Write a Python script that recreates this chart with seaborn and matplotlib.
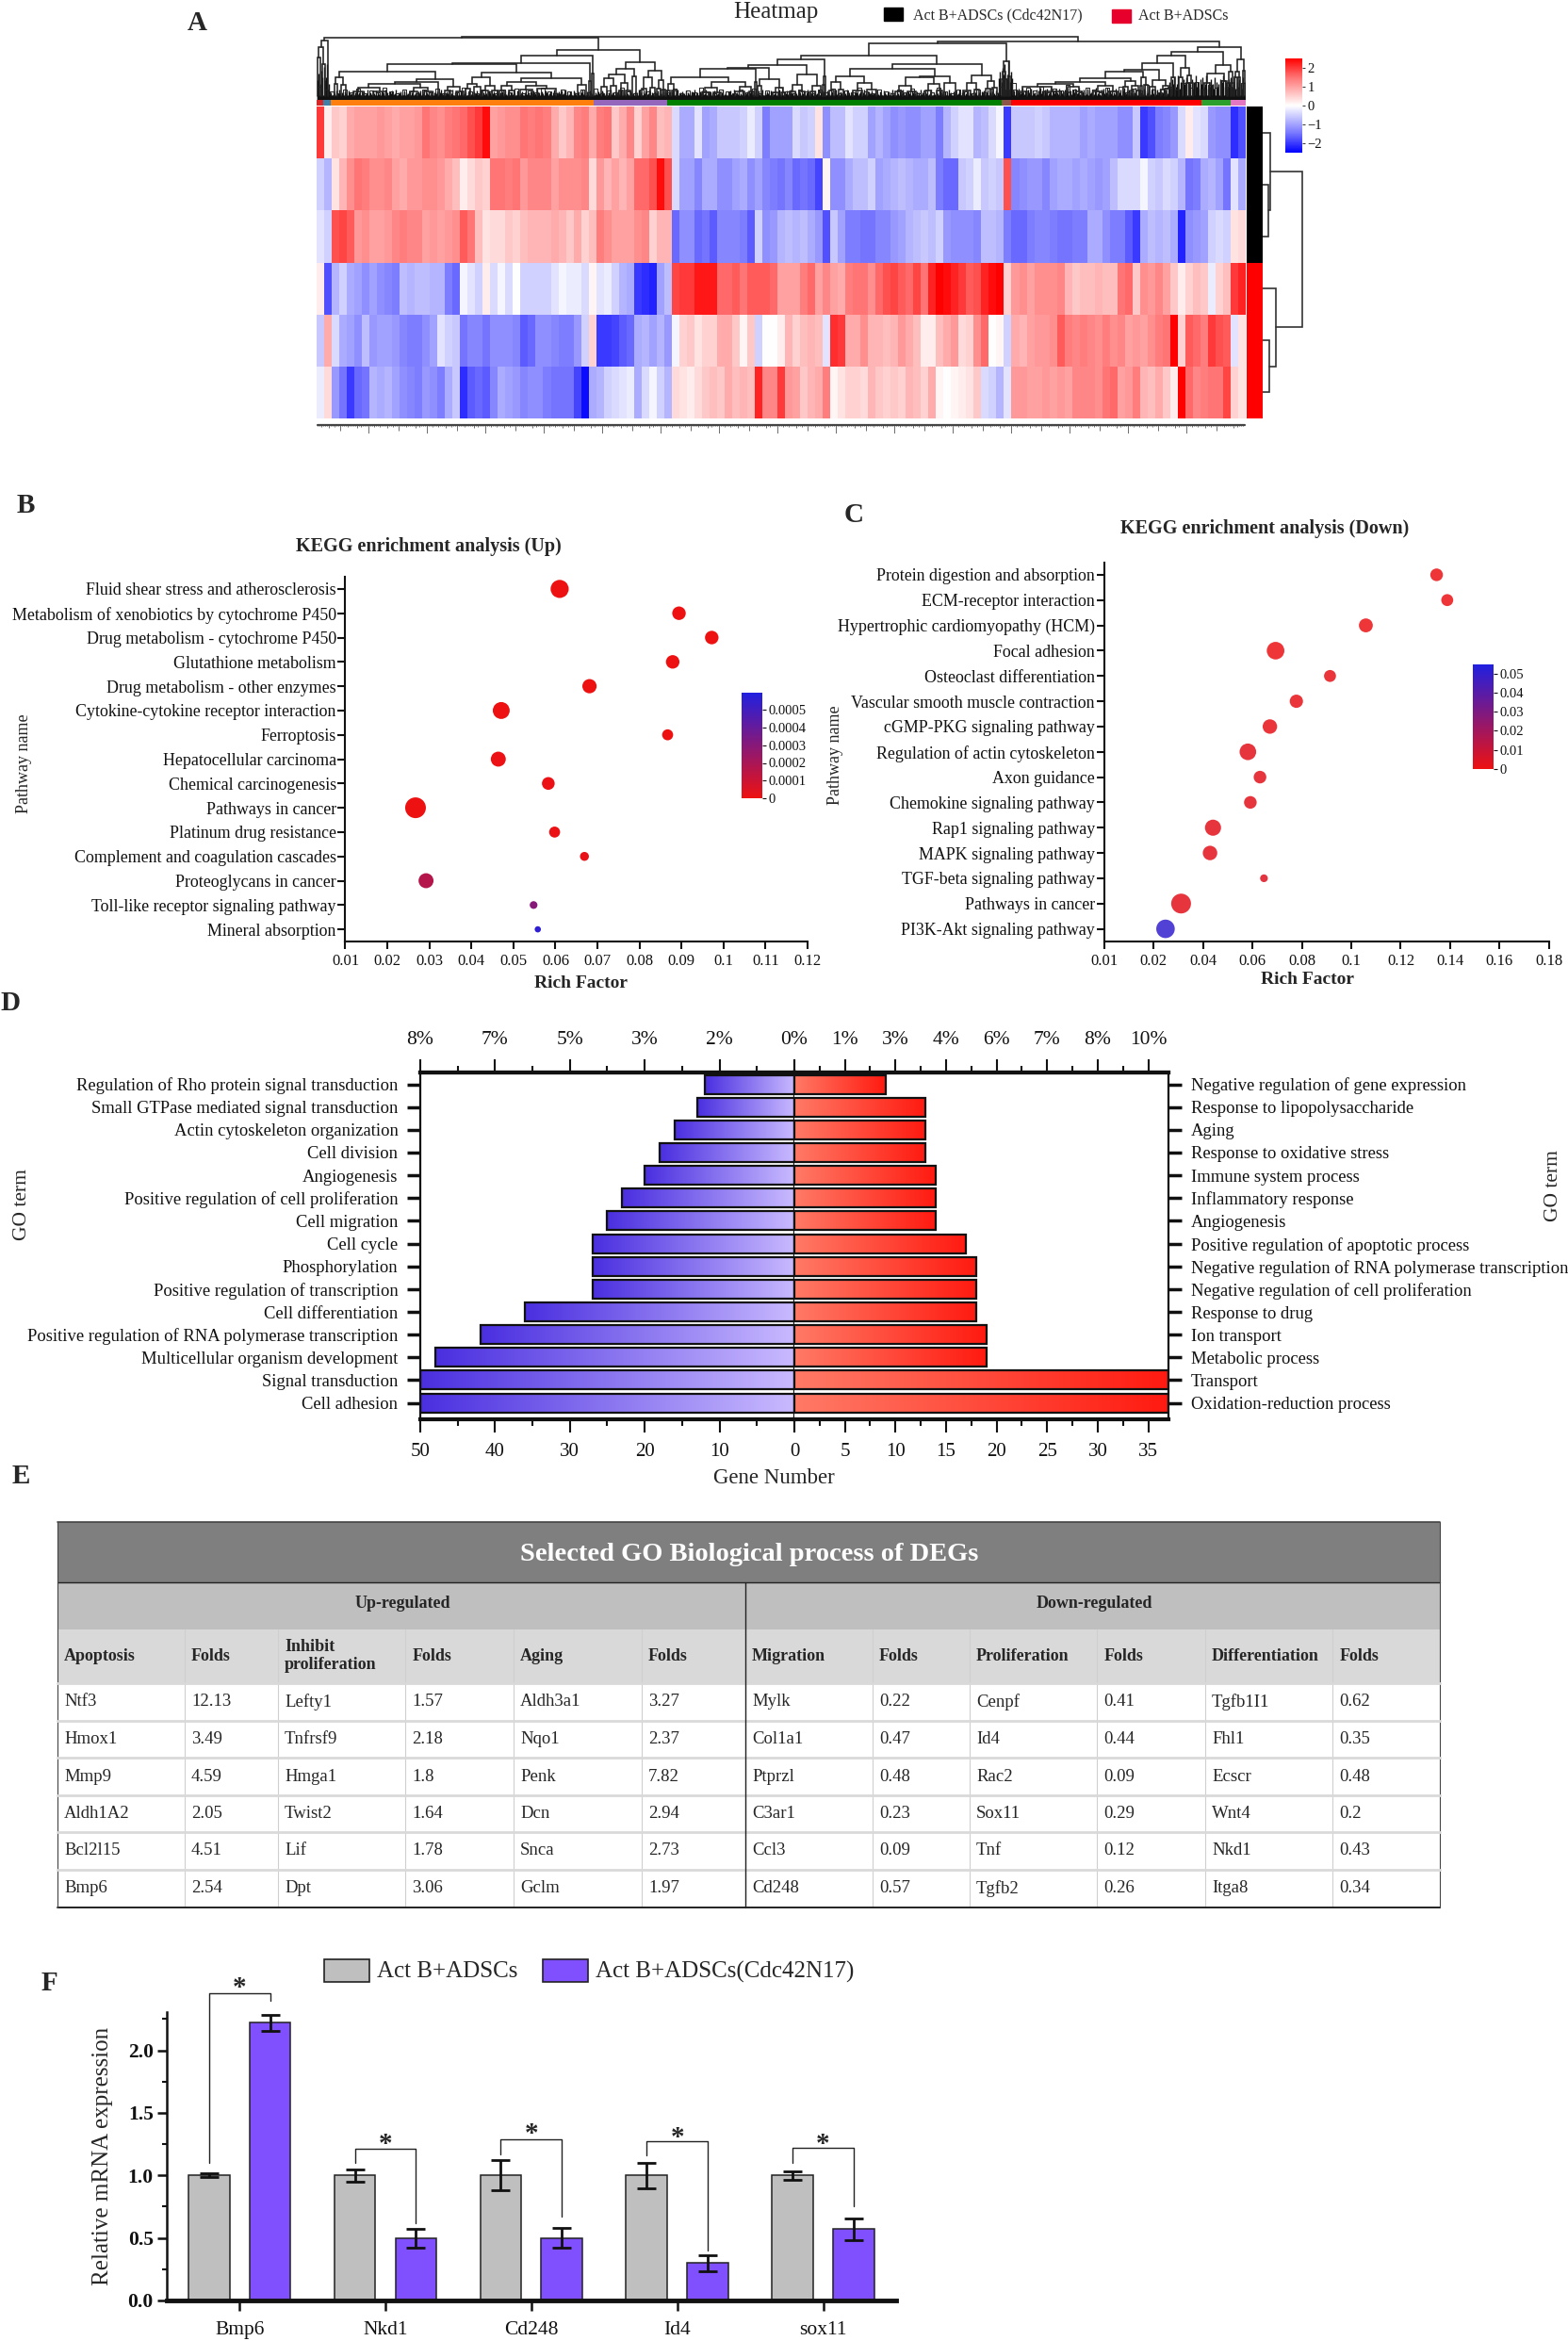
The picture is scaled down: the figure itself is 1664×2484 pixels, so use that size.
import numpy as np
import pandas as pd
import matplotlib
matplotlib.use('Agg')
import matplotlib.pyplot as plt
import seaborn as sns
from matplotlib.cm import ScalarMappable
from matplotlib.colors import LinearSegmentedColormap, Normalize
from matplotlib.patches import Rectangle

W, H = 1665, 2484

sns.set_style('ticks')
plt.rcParams['font.family'] = ['Liberation Serif', 'DejaVu Serif']
plt.rcParams['axes.edgecolor'] = '#111111'
plt.rcParams['xtick.color'] = '#111111'
plt.rcParams['ytick.color'] = '#111111'

ROW1 = [2.0, 0.2, 0.6, 0.5, 0.9, 1.0, 1.0, 1.0, 1.1, 1.0,
        0.9, 1.0, 1.0, 1.1, 1.5, 1.3, 1.2, 1.4, 1.5, 1.6,
        1.8, 2.0, 2.4, 1.0, 1.1, 1.2, 1.2, 1.5, 1.4, 1.5,
        1.4, 0.9, 0.6, 0.8, 1.3, 1.4, 0.9, 1.4, 1.5, 0.6,
        0.9, 1.3, 0.5, 1.0, 1.3, 0.7, 0.8, -0.4, -0.9, -0.9,
        -0.3, -1.0, -0.9, -0.6, -0.6, -0.6, -0.5, -0.2, -0.5, -1.4,
        -1.0, -1.0, -1.0,
        -0.4, -0.6, -0.5, 0.3, -1.2, -0.7, -0.7, -0.3, -0.5, -0.5,
        -1.0, -0.8, -1.0, -1.2, -1.1, -1.2, -1.2, -1.0, -1.0, -1.4,
        -0.8, -0.5, -0.3, -0.3, -0.8, -0.7, -0.4, -0.1, -2.0, -0.6,
        -0.6, -0.6, -0.5, -0.6, -0.8, -0.8, -0.8, -0.8, -1.0, -0.9,
        -1.0, -1.0, -1.0, -1.2, -1.2, -0.6, -2.0, -1.8, -1.4, -1.3,
        -1.1, -0.4, 0.2, -0.3, -0.4, -1.1, -1.2, -1.2, -2.1, -1.8]
ROW2 = [-0.5, -0.8, 0.3, 0.8, 1.2, 1.5, 1.4, 1.2, 1.2, 1.3,
        1.0, 0.9, 1.1, 1.1, 1.2, 1.2, 1.1, 0.9, 0.7, 0.2,
        0.4, 0.6, 0.5, 1.5, 1.5, 1.4, 1.5, 1.1, 1.3, 1.3,
        1.3, 1.0, 1.2, 1.2, 1.2, 1.3, 0.4, 1.1, 0.8, 1.0,
        0.8, 1.0, 1.6, 1.6, 1.8, 2.4, 1.8, -0.4, -1.0, -1.0,
        -1.3, -0.9, -0.9, -1.2, -1.2, -1.0, -0.9, -1.2, -1.0, -1.3,
        -1.4, -1.5, -1.3,
        -1.6, -1.5, -1.6, -1.9, 0.1, -1.2, -1.2, -0.9, -0.7, -0.7,
        -0.5, -1.0, -0.9, -0.8, -0.7, -0.8, -0.9, -0.9, -0.7, -1.4,
        -1.6, -1.6, -0.6, -0.5, -0.2, -0.6, -0.5, -0.6, 1.8, -1.3,
        -1.2, -1.1, -1.1, -1.3, -1.0, -0.9, -0.9, -1.0, -0.9, -1.0,
        -1.1, -1.0, -0.7, -0.4, -0.4, -0.4, -0.1, -0.5, -0.6, -0.4,
        -0.5, -0.8, -1.5, -1.4, -0.9, -0.8, -1.0, -1.5, -0.3, -0.9]
ROW3 = [-0.3, -0.5, 1.8, 1.9, 1.7, 1.1, 1.2, 1.0, 1.0, 1.1,
        1.3, 1.4, 1.3, 1.3, 1.0, 1.1, 1.0, 1.1, 1.2, 1.7,
        1.5, 0.7, 0.3, 0.4, 0.4, 0.6, 0.5, 0.7, 0.8, 0.8,
        0.8, 0.9, 0.8, 0.6, 0.9, 0.5, 0.7, 1.4, 1.2, 1.0,
        1.0, 1.0, 1.2, 1.3, 0.5, 0.8, 0.8, -1.6, -1.2, -1.2,
        -1.6, -1.5, -1.7, -1.3, -1.3, -1.3, -1.4, -1.7, -0.5, -1.2,
        -1.1, -0.8, -0.7,
        -0.8, -0.7, -0.9, -1.1, -1.8, -0.6, -1.0, -1.4, -1.4, -1.5,
        -1.5, -1.3, -1.3, -1.1, -1.0, -0.8, -0.7, -0.6, -0.7, -0.5,
        -1.1, -1.2, -1.2, -1.2, -1.3, -0.7, -0.7, -0.8, -1.4, -1.6,
        -1.6, -1.4, -1.3, -1.3, -1.4, -1.5, -1.5, -1.4, -1.4, -0.9,
        -0.9, -1.2, -1.4, -1.4, -1.7, -2.0, -0.9, -0.7, -0.8, -0.7,
        -0.9, -2.2, -1.2, -1.1, -1.0, -0.5, -0.4, -0.5, 0.3, 0.4]
ROW4 = [0.2, -1.8, -0.8, -0.5, -0.9, -1.0, -1.2, -1.0, -1.2, -1.3,
        -1.4, -0.7, -0.8, -0.7, -0.7, -0.8, -0.8, -1.4, -1.6, -0.1,
        -0.3, -0.5, 0.2, -0.4, -0.1, -0.4, 0.0, -0.5, -0.5, -0.5,
        -0.5, -0.3, -0.1, -0.2, -0.2, -0.4, 0.1, -0.3, -0.2, -0.5,
        -0.8, -0.9, -2.0, -2.1, -2.2, -1.0, -0.7, 1.9, 2.0, 2.0,
        2.3, 2.3, 2.3, 1.6, 1.6, 1.7, 1.5, 1.7, 1.7, 1.7,
        1.6, 1.0, 1.0,
        1.0, 1.4, 1.6, 1.0, 1.3, 1.0, 0.9, 1.4, 1.5, 1.5,
        1.2, 1.6, 1.8, 1.9, 1.7, 1.6, 1.9, 1.5, 2.2, 2.5,
        2.4, 2.2, 2.0, 1.7, 1.8, 2.2, 2.4, 2.5, 0.5, 1.1,
        1.2, 1.0, 1.2, 1.2, 1.2, 1.3, 0.8, 0.6, 0.7, 0.7,
        0.8, 0.7, 0.7, 1.5, 1.6, 0.6, 1.2, 1.1, 1.3, 1.0,
        0.6, 0.2, 0.5, 0.7, 0.6, -0.2, 0.5, 0.7, 2.0, 2.2]
ROW5 = [-0.6, 0.9, -0.4, -0.9, -1.0, -1.2, -0.7, -1.1, -1.0, -1.0,
        -1.1, -1.3, -1.4, -1.4, -1.2, -1.0, -0.3, -0.5, -0.6, -1.5,
        -1.3, -1.3, -1.5, -1.2, -1.2, -1.2, -1.3, -1.7, -1.6, -1.2,
        -1.2, -1.3, -1.4, -1.4, -1.1, -0.5, 0.5, -2.0, -2.0, -1.9,
        -1.7, -1.6, -0.9, -0.8, -1.0, -0.8, -1.1, -0.1, 0.5, 0.6,
        0.3, 0.5, 0.5, 0.9, 0.9, 0.6, 0.1, 0.6, -0.5, 0.0,
        0.0, 0.2, 0.8,
        0.5, 0.7, 0.8, 0.7, -0.3, 2.1, 2.0, 0.9, 0.9, 1.2,
        0.8, 0.8, 0.7, 0.8, 1.1, 0.9, 0.7, 0.2, 0.2, 0.7,
        0.9, 1.1, 0.4, 0.5, 1.2, 1.6, 0.0, 0.1, -0.5, 0.9,
        0.8, 1.0, 1.1, 1.1, 1.2, 1.7, 1.4, 1.3, 1.4, 1.3,
        1.2, 1.4, 1.2, 1.3, 1.0, 1.1, 1.0, 1.2, 1.4, 1.5,
        2.5, 0.5, 1.7, 1.6, 1.4, 2.0, 1.8, 1.7, -0.3, 0.3]
ROW6 = [-0.2, 0.4, -1.1, -1.5, -2.0, -1.6, -1.5, -0.8, -0.9, -0.8,
        -1.0, -1.2, -1.3, -1.4, -1.1, -1.2, -1.4, -0.9, -0.6, -2.1,
        -1.7, -1.6, -1.7, -1.3, -0.9, -1.0, -1.1, -1.3, -1.2, -1.2,
        -1.4, -1.5, -1.5, -1.5, -1.9, -2.4, -0.9, -0.8, -0.5, -0.4,
        -0.3, -0.2, -0.9, -0.4, -0.1, -0.5, -0.8, 0.4, 0.3, 0.2,
        0.4, 0.6, 0.7, 0.6, 0.9, 0.7, 0.8, 0.7, 2.2, 1.3,
        1.3, 2.0, 1.1,
        1.0, 0.6, 0.8, 0.9, 1.4, 0.1, 0.3, 0.5, 0.5, 0.4,
        0.8, 0.6, 0.5, 0.6, 0.5, 0.8, 0.7, 0.5, 0.9, 0.1,
        0.0, 0.1, 0.2, 0.3, 0.6, -0.4, -0.5, -0.8, -0.3, 1.1,
        1.1, 1.0, 1.0, 1.1, 1.0, 1.1, 1.0, 1.3, 1.3, 1.3,
        1.2, 1.5, 1.6, 1.0, 1.1, 1.4, 0.8, 0.7, 0.9, 0.6,
        0.2, 2.5, 1.6, 1.3, 1.4, 1.5, 1.5, 1.9, 0.5, 0.3]

# cluster strip above the heatmap (pixel widths along the 986 px wide map)
STRIP_WIDTHS = [7, 8, 279, 78, 355, 10, 202, 31, 17]
STRIP_COLORS = ['#d62728', '#3f7fa8', '#ff7f0e', '#9467bd', '#008000',
                '#8c564b', '#ff0000', '#2ca02c', '#e377c2']

# column dendrogram: (height, left, right), a bare number is a leaf position
TREE_SPIKES = (63, (56, (45, 337, 340), (38, 342, 345)), 348)
TREE_O1 = (24, (17, 355, 358), (16, 362, 367))
TREE_O2 = (21.7, (19.3, (16.7, (12.7, (9, 375, 385), (9, 396, 410)),
                         (13, (9, 435, 443), (9, 450, 458))), 465),
           (14, (10, 472, 478), (9, 484, 492)))
TREE_O3 = (23.7, (17, (12, 494, 499), (14, 503, 510)),
           (15, (10, 512, 518), (10, 522, 528)))
TREE_O4 = (22.7, (19.3, (15, (10, 530, 535), (10, 540, 546)),
                  (15, (11, 552, 565), (12, 570, 590))),
           (16, 613, 622))
TREE_ORANGE = (46.7, (39.3, (37.7, (29.7, TREE_O1, TREE_O2), (29.3, TREE_O3, TREE_O4)),
                      (20, 625.5, 627.5)), (28, 628.5, 630))
TREE_PURPLE = (40, (33.3, (26.7, (22.7, (14, 638, 644), (15, 648, 654)),
                           (17.7, (10, 657, 661), (10, 664, 669))), (25, 671, 675)),
               (31, (24.3, (12, 681, 686), (13, 690, 695)),
                (21, (12, 697, 701), (11, 703, 706))))
TREE_G1 = (33.5, (24.3, (17, (10, 707, 711), (10, 713, 718)),
                  (18.7, (13, (8, 745, 752), (8, 757, 765)),
                   (14, (9, 780, 790), (9, 795, 800)))), (19, 801, 803))
TREE_G2 = (21.7, (15, 804, 808), (13, (8, 820, 826), (8, 829, 833)))
TREE_G3 = (27, (16, (9, 838, 844), (9, 848, 854)), (15, (9, 860, 865), (8, 869, 873)))
TREE_G4 = (25.3, (19, (10, 880, 885), (11, 890, 895)), (18, (10, 905, 915), (11, 920, 930)))
TREE_G5 = (25.3, (23.7, (15, (9, 950, 958), (9, 963, 972)),
                  (17, (10, 982, 988), (10, 994, 1000))), (18, 1002, 1014))
TREE_G6 = (26, (18, (10, 1022, 1030), (11, 1034, 1039)),
           (20, (12, 1046, 1051), (13, 1053, 1058)))
TREE_GREEN = (60.3, (47, (43.3, (36.7, (33.7, TREE_G1, TREE_G2), TREE_G3),
                          (25, (16, 873, 875), 876)),
                     (37.7, (32.7, TREE_G4, TREE_G5), TREE_G6)),
              (41, (30, (22, 1063, 1065), (22, 1066, 1068)), (25, 1070, 1072)))
TREE_R1 = (19.3, (16.7, (14.3, (9, 1080, 1090), (9, 1108, 1125)),
                  (14, (8, 1130, 1136), (9, 1142, 1148))),
           (15, (9, 1160, 1170), (9, 1176, 1186)))
TREE_R2 = (31.7, (29.7, (22.7, TREE_R1, (20, (14, 1192, 1197), (15, (10, 1200, 1203), (10, 1206, 1210)))),
                  (24, (15, 1210, 1212), (16, 1214, 1218))),
           (20.7, (14, 1220, 1226), (15, (11, 1232, 1236), (12, 1238, 1243))))
TREE_R3 = (46.7, (39.3, TREE_R2, (24, 1243.5, 1247)),
           (33.7, (24, 1251, 1255), (26, (18, 1259, 1262), (18, 1263, 1266))))
TREE_R4 = (36.7, (28, (18, 1278, 1284), (20, 1296, 1302)),
           (30, (18, 1303, 1306), (18, 1307, 1309)))
TREE_PINK = (42.7, (30, (24, 1310, 1313), (24, 1314, 1316)), (31, 1319, 1321))
COL_TREE = (67, (66, TREE_SPIKES, (52.7, TREE_ORANGE, TREE_PURPLE)),
            (61.7, TREE_GREEN, (56, (51, TREE_R3, TREE_R4), TREE_PINK)))

# fine leaves at the base of the dendrogram
FUZZ_HEIGHTS = [6, 8, 5, 9, 7, 10, 6, 7, 11, 5, 8, 6, 9, 7, 5, 10, 8, 6, 7, 9, 5, 8, 11]
HAT_HEIGHTS = [9, 7, 11, 8, 12, 7, 10, 8, 13, 9, 7, 11]
FUZZ_ZONES = [(337, 350, 3.5), (350, 1060, 1.0), (1060, 1075, 3.8), (1075, 1240, 1.2), (1240, 1322, 2.4)]
GENE_TICKS = [1, 1, 2, 1, 1, 1, 3, 1, 1, 2, 1, 1, 5, 1, 1, 1, 2, 1, 1, 1, 1, 3, 1, 2, 1, 1, 1, 7, 1, 1, 2]

# row dendrogram, leaves are row numbers
ROW_TREE = (42, (8, 0, (6, 1, 2)), (14, 3, (7, 4, 5)))
ROW_COLORS = ['black', 'black', 'black', 'red', 'red', 'red']

# ---- B: KEGG up
B_PATHWAYS = ['Fluid shear stress and atherosclerosis', 'Metabolism of xenobiotics by cytochrome P450',
              'Drug metabolism - cytochrome P450', 'Glutathione metabolism', 'Drug metabolism - other enzymes',
              'Cytokine-cytokine receptor interaction', 'Ferroptosis', 'Hepatocellular carcinoma',
              'Chemical carcinogenesis', 'Pathways in cancer', 'Platinum drug resistance',
              'Complement and coagulation cascades', 'Proteoglycans in cancer',
              'Toll-like receptor signaling pathway', 'Mineral absorption']
B_RICH = [0.061, 0.0894, 0.0972, 0.0879, 0.0681, 0.0471, 0.0867, 0.0464, 0.0583, 0.0267, 0.0598, 0.0669,
          0.0292, 0.0548, 0.0558]
B_NUMBER = [20, 13, 13, 13, 14, 18, 10, 15, 12, 25, 10, 8, 15, 7, 6]
B_PVALUE = [0, 0, 0, 0, 0, 0, 0, 0.00001, 0.00001, 0, 0.00001, 0.00002, 0.00017, 0.0003, 0.00056]
B_TICKS = [0.01, 0.02, 0.03, 0.04, 0.05, 0.06, 0.07, 0.08, 0.09, 0.10, 0.11, 0.12]
B_TICKLABELS = ['0.01', '0.02', '0.03', '0.04', '0.05', '0.06', '0.07', '0.08', '0.09', '0.1', '0.11', '0.12']
B_CBAR_TICKS = [0, 0.0001, 0.0002, 0.0003, 0.0004, 0.0005]
B_CBAR_LABELS = ['0', '0.0001', '0.0002', '0.0003', '0.0004', '0.0005']
B_LEGEND_N = [6, 12, 19, 25]

# ---- C: KEGG down, the first tick sits at the origin but reads 0.01
C_PATHWAYS = ['Protein digestion and absorption', 'ECM-receptor interaction', 'Hypertrophic cardiomyopathy (HCM)',
              'Focal adhesion', 'Osteoclast differentiation', 'Vascular smooth muscle contraction',
              'cGMP-PKG signaling pathway', 'Regulation of actin cytoskeleton', 'Axon guidance',
              'Chemokine signaling pathway', 'Rap1 signaling pathway', 'MAPK signaling pathway',
              'TGF-beta signaling pathway', 'Pathways in cancer', 'PI3K-Akt signaling pathway']
C_RICH = [0.1345, 0.1388, 0.1059, 0.0694, 0.0914, 0.0778, 0.0671, 0.0582, 0.0631, 0.0592, 0.0441, 0.0429,
          0.0647, 0.0312, 0.0249]
C_NUMBER = [15, 14, 17, 24, 14, 16, 18, 22, 15, 15, 21, 18, 9, 30, 26]
C_PVALUE = [0.001, 0.001, 0.001, 0.001, 0.002, 0.002, 0.002, 0.003, 0.003, 0.003, 0.003, 0.003, 0.004, 0.003, 0.05]
C_TICKS = [0, 0.02, 0.04, 0.06, 0.08, 0.10, 0.12, 0.14, 0.16, 0.18]
C_TICKLABELS = ['0.01', '0.02', '0.04', '0.06', '0.08', '0.1', '0.12', '0.14', '0.16', '0.18']
C_CBAR_TICKS = [0, 0.01, 0.02, 0.03, 0.04, 0.05]
C_CBAR_LABELS = ['0', '0.01', '0.02', '0.03', '0.04', '0.05']
C_LEGEND_N = [9, 16, 22, 29]

# ---- D: GO terms
D_DOWN_TERMS = ['Regulation of Rho protein signal transduction', 'Small GTPase mediated signal transduction',
                'Actin cytoskeleton organization', 'Cell division', 'Angiogenesis',
                'Positive regulation of cell proliferation', 'Cell migration', 'Cell cycle', 'Phosphorylation',
                'Positive regulation of transcription', 'Cell differentiation',
                'Positive regulation of RNA polymerase transcription', 'Multicellular organism development',
                'Signal transduction', 'Cell adhesion']
D_DOWN = [12, 13, 16, 18, 20, 23, 25, 27, 27, 27, 36, 42, 48, 50, 50]
D_UP_TERMS = ['Negative regulation of gene expression', 'Response to lipopolysaccharide', 'Aging',
              'Response to oxidative stress', 'Immune system process', 'Inflammatory response', 'Angiogenesis',
              'Positive regulation of apoptotic process', 'Negative regulation of RNA polymerase transcription',
              'Negative regulation of cell proliferation', 'Response to drug', 'Ion transport', 'Metabolic process',
              'Transport', 'Oxidation-reduction process']
D_UP = [9, 13, 13, 13, 14, 14, 14, 17, 18, 18, 18, 19, 19, 37, 37]
D_DOWN_TICKS = [50, 40, 30, 20, 10, 0]
D_DOWN_PCT = ['8%', '7%', '5%', '3%', '2%', '0%']
D_UP_TICKS = [0, 5, 10, 15, 20, 25, 30, 35]
D_UP_PCT = ['', '1%', '3%', '4%', '6%', '7%', '8%', '10%']

# ---- E: table
E_HEADERS = ['Apoptosis', 'Folds', 'Inhibit\nproliferation', 'Folds', 'Aging', 'Folds',
             'Migration', 'Folds', 'Proliferation', 'Folds', 'Differentiation', 'Folds']
E_COLUMNS = [['Ntf3', 'Hmox1', 'Mmp9', 'Aldh1A2', 'Bcl2l15', 'Bmp6'],
             ['12.13', '3.49', '4.59', '2.05', '4.51', '2.54'],
             ['Lefty1', 'Tnfrsf9', 'Hmga1', 'Twist2', 'Lif', 'Dpt'],
             ['1.57', '2.18', '1.8', '1.64', '1.78', '3.06'],
             ['Aldh3a1', 'Nqo1', 'Penk', 'Dcn', 'Snca', 'Gclm'],
             ['3.27', '2.37', '7.82', '2.94', '2.73', '1.97'],
             ['Mylk', 'Col1a1', 'Ptprzl', 'C3ar1', 'Ccl3', 'Cd248'],
             ['0.22', '0.47', '0.48', '0.23', '0.09', '0.57'],
             ['Cenpf', 'Id4', 'Rac2', 'Sox11', 'Tnf', 'Tgfb2'],
             ['0.41', '0.44', '0.09', '0.29', '0.12', '0.26'],
             ['Tgfb1I1', 'Fhl1', 'Ecscr', 'Wnt4', 'Nkd1', 'Itga8'],
             ['0.62', '0.35', '0.48', '0.2', '0.43', '0.34']]
E_COL_X = [61, 196, 295, 430.5, 545, 681, 791, 926, 1029, 1164.5, 1279, 1414.5, 1528]
E_ROW_Y = [1786, 1826, 1865, 1905, 1944, 1984, 2024]

# ---- F: qPCR
F_GENES = ['Bmp6', 'Nkd1', 'Cd248', 'Id4', 'sox11']
F_CTRL = [1.0, 1.0, 1.0, 1.0, 1.0]
F_CTRL_ERR = [0.015, 0.05, 0.12, 0.1, 0.035]
F_CDC = [2.22, 0.5, 0.5, 0.3, 0.57]
F_CDC_ERR = [0.063, 0.075, 0.08, 0.065, 0.085]
F_BRACKET_TOP = [2.46, 1.21, 1.29, 1.27, 1.22]
F_BRACKET_LEFT = [1.10, 1.10, 1.17, 1.16, 1.10]
F_BRACKET_RIGHT = [2.40, 0.62, 0.67, 0.40, 0.75]
F_STAR = [2.50, 1.25, 1.33, 1.30, 1.25]


def add_ax(x0, y0, x1, y1):
    return fig.add_axes([x0 / W, 1 - y1 / H, (x1 - x0) / W, (y1 - y0) / H])


def draw_tree(ax, node, horizontal=False, leaf_at=4.0):
    """Draw nested (height, left, right) links, returns position and height of the node"""
    if not isinstance(node, tuple):
        return node, leaf_at
    h, left, right = node
    xl, hl = draw_tree(ax, left, horizontal, leaf_at)
    xr, hr = draw_tree(ax, right, horizontal, leaf_at)
    if horizontal:
        ax.plot([hl, h, h, hr], [xl, xl, xr, xr], color='#333333', lw=1.2, solid_joinstyle='miter')
    else:
        ax.plot([xl, xl, xr, xr], [hl, h, h, hr], color='#222222', lw=1.15, solid_joinstyle='miter')
    return (xl + xr) / 2, h


def colorbar(box, cmap, vmin, vmax, ticks, labels, size):
    cax = add_ax(*box)
    cb = fig.colorbar(ScalarMappable(Normalize(vmin, vmax), cmap), cax=cax)
    cb.outline.set_visible(False)
    cb.set_ticks(ticks, labels=labels)
    cax.tick_params(labelsize=size, length=3, width=0.8, pad=2)
    return cb


def kegg_panel(box, pathways, rich, number, pvalue, xlim, ticks, ticklabels, sizes, size_norm, hue_max, alpha):
    ax = add_ax(*box)
    df = pd.DataFrame({'pathway': pathways, 'rich': rich, 'number': number, 'pvalue': pvalue})
    sns.scatterplot(data=df, x='rich', y='pathway', size='number', sizes=sizes, size_norm=size_norm,
                    hue='pvalue', palette=PVAL_CMAP, hue_norm=(0, hue_max), legend=False,
                    edgecolor='none', alpha=alpha, ax=ax)
    ax.set_xlim(*xlim)
    ax.set_ylim(14.5, -0.5)
    ax.set_xticks(ticks, labels=ticklabels)
    ax.set_xlabel('')
    ax.set_ylabel('')
    for side in ['top', 'right']:
        ax.spines[side].set_visible(False)
    for side in ['left', 'bottom']:
        ax.spines[side].set_linewidth(1.5)
    ax.tick_params(axis='y', labelsize=12.9, length=6, width=1.5, pad=1)
    ax.tick_params(axis='x', labelsize=12, length=6, width=1.5, pad=3)
    return ax


fig = plt.figure(figsize=(W / 100, H / 100), dpi=100)
px = fig.add_axes([0, 0, 1, 1], zorder=-1)
px.set_xlim(0, W)
px.set_ylim(H, 0)
px.axis('off')


def text(x, y, s, size, ha='center', va='center', **kw):
    px.text(x, y, s, fontsize=size, ha=ha, va=va, **kw)


for letter, lx, ly in [('A', 209, 24), ('B', 27, 537), ('C', 906, 546), ('D', 11, 1064), ('E', 22, 1566), ('F', 52, 2105)]:
    text(lx, ly, letter, 21, weight='bold')

# ---- panel A
HEAT_CMAP = LinearSegmentedColormap.from_list(
    'heat', [(0, '#0000ff'), (0.2, '#7474ff'), (0.5, '#ffffff'), (0.8, '#ff7474'), (1, '#ff0000')])
heat = np.array([ROW1, ROW2, ROW3, ROW4, ROW5, ROW6])
ax_heat = add_ax(336, 113, 1322, 444)
cax_heat = add_ax(1364, 62, 1382, 162)
sns.heatmap(heat, cmap=HEAT_CMAP, vmin=-2.5, vmax=2.5, xticklabels=False, yticklabels=False,
            ax=ax_heat, cbar_ax=cax_heat, cbar_kws={'ticks': [-2, -1, 0, 1, 2]})
cax_heat.tick_params(labelsize=10.5, length=2, width=0.6, pad=2)
ax_heat.collections[0].colorbar.outline.set_visible(False)

ax_strip = add_ax(336, 106, 1322, 112)
left = 0
for width, color in zip(STRIP_WIDTHS, STRIP_COLORS):
    ax_strip.barh(0, width, left=left, height=1, color=color, edgecolor='none', linewidth=0)
    left += width
ax_strip.set_xlim(0, 986)
ax_strip.set_ylim(-0.5, 0.5)
ax_strip.axis('off')

ax_tree = add_ax(336, 38, 1322, 106)
ax_tree.set_xlim(336, 1322)
ax_tree.set_ylim(0, 68)
ax_tree.axis('off')
for start, end, scale in FUZZ_ZONES:
    xs = np.arange(start, end, 1.3)
    hs = np.resize(FUZZ_HEIGHTS, len(xs)) * scale
    ax_tree.vlines(xs, 0, hs, color='#111111', lw=1.0)
    fork_x = np.arange(start, end, 7.0)
    fork_h = np.resize(HAT_HEIGHTS, len(fork_x)) * min(scale, 1.6)
    for fx, fh in zip(fork_x, fork_h):
        ax_tree.plot([fx, fx, fx + 4.5, fx + 4.5], [3, fh, fh, 3], color='#222222', lw=0.7)
ax_tree.vlines(np.arange(337, 1322, 1.0), 0, 5, color='#111111', lw=1.0)
draw_tree(ax_tree, COL_TREE)

ax_rowbar = add_ax(1323, 113, 1340, 444)
for row, color in enumerate(ROW_COLORS):
    ax_rowbar.barh(row, 1, height=1, color=color, edgecolor='none', linewidth=0)
ax_rowbar.set_xlim(0, 1)
ax_rowbar.set_ylim(5.5, -0.5)
ax_rowbar.axis('off')

ax_rowtree = add_ax(1340, 113, 1383, 444)
ax_rowtree.set_xlim(0, 43)
ax_rowtree.set_ylim(5.5, -0.5)
ax_rowtree.axis('off')
draw_tree(ax_rowtree, ROW_TREE, horizontal=True, leaf_at=0)

ax_genes = add_ax(336, 449, 1322, 460)
ax_genes.set_xlim(336, 1322)
ax_genes.set_ylim(8, 0)
ax_genes.axis('off')
gene_x = np.arange(337, 1321, 2.0)
ax_genes.vlines(gene_x, 1, 1 + np.resize(GENE_TICKS, len(gene_x)), color='#555555', lw=0.6)
ax_genes.plot([337, 1321], [1.5, 1.5], color='#444444', lw=1.6)

text(823, 13, 'Heatmap', 18)
px.add_patch(Rectangle((938, 8), 20, 14, color='black'))
text(969, 16, 'Act B+ADSCs (Cdc42N17)', 11.5, ha='left')
px.add_patch(Rectangle((1180, 10), 20, 14, color='#e8002d'))
text(1208, 17, 'Act B+ADSCs', 11.5, ha='left')

# ---- panels B and C
PVAL_CMAP = LinearSegmentedColormap.from_list('pval', ['#ee1111', '#2020e0'])
kegg_panel((366.5, 612, 857, 999), B_PATHWAYS, B_RICH, B_NUMBER, B_PVALUE, (0.01, 0.12), B_TICKS, B_TICKLABELS,
           (22.6, 251), (6, 25), 0.0006, 1.0)
kegg_panel((1171.5, 596.5, 1644, 999), C_PATHWAYS, C_RICH, C_NUMBER, C_PVALUE, (0, 0.18), C_TICKS, C_TICKLABELS,
           (35, 229), (9, 29), 0.0548, 0.85)
colorbar((787, 734.5, 809, 847), PVAL_CMAP, 0, 0.0006, B_CBAR_TICKS, B_CBAR_LABELS, 10.5)
colorbar((1563, 705, 1585, 816), PVAL_CMAP, 0, 0.0548, C_CBAR_TICKS, C_CBAR_LABELS, 10.5)

text(455, 580, 'KEGG enrichment analysis (Up)', 14.5, weight='bold')
text(1342, 561, 'KEGG enrichment analysis (Down)', 14.5, weight='bold')
text(617, 1043, 'Rich Factor', 14, weight='bold')
text(1388, 1040, 'Rich Factor', 14, weight='bold')
text(26, 810, 'Pathway name', 13, rotation=90)
text(887, 801, 'Pathway name', 13, rotation=90)
text(802, 713, 'Pvalue', 11)
text(1577, 683, 'Pvalue', 11)
text(820, 883, 'Number', 11)
text(1594, 865, 'Number', 11)
b_size = np.interp(B_LEGEND_N, (6, 25), (22.6, 251))
px.scatter([801] * 4, [904.5, 925, 945, 967.5], s=b_size, color='#808080', edgecolor='none')
for n, ly in zip(B_LEGEND_N, [902, 923, 942, 965]):
    text(819, ly, str(n), 11.5, ha='left')
c_size = np.interp(C_LEGEND_N, (9, 29), (35, 229))
px.scatter([1574.5] * 4, [887, 908, 929, 952], s=c_size, color='#808080', edgecolor='none')
for n, ly in zip(C_LEGEND_N, [885, 906, 928, 950]):
    text(1593, ly, str(n), 11.5, ha='left')

# ---- panel D
BLUE_FADE = LinearSegmentedColormap.from_list('blue_fade', ['#4a2fe0', '#c9baff'])
RED_FADE = LinearSegmentedColormap.from_list('red_fade', ['#ff7a66', '#ff1a10'])
ramp = np.linspace(0, 1, 256).reshape(1, -1)
ax_down = add_ax(446, 1138, 843, 1506)
ax_up = add_ax(843, 1138, 1240, 1506)
sns.barplot(x=D_DOWN, y=D_DOWN_TERMS, orient='h', width=0.83, color='white', edgecolor='#111111', linewidth=1.6, ax=ax_down)
sns.barplot(x=D_UP, y=D_UP_TERMS, orient='h', width=0.83, color='white', edgecolor='#111111', linewidth=1.6, ax=ax_up)
for ax, values, cmap in [(ax_down, D_DOWN, BLUE_FADE), (ax_up, D_UP, RED_FADE)]:
    for row, (bar, value) in enumerate(zip(ax.patches, values)):
        bar.set_facecolor('none')
        bar.set_zorder(3)
        ax.imshow(ramp, cmap=cmap, aspect='auto', zorder=2,
                  extent=(value if cmap is BLUE_FADE else 0, 0 if cmap is BLUE_FADE else value,
                          bar.get_y() + bar.get_height(), bar.get_y()))
ax_down.set_xlim(50, 0)
ax_up.set_xlim(0, 37)
ax_down.set_xticks(D_DOWN_TICKS)
ax_down.set_xticks([45, 35, 25, 15, 5], minor=True)
ax_up.set_xticks(D_UP_TICKS)
ax_up.set_xticks([2.5, 7.5, 12.5, 17.5, 22.5, 27.5, 32.5], minor=True)
ax_up.set_xticklabels([''] + [str(t) for t in D_UP_TICKS[1:]])
ax_up.yaxis.tick_right()
for ax, ticks, minor, pct in [(ax_down, D_DOWN_TICKS, [45, 35, 25, 15, 5], D_DOWN_PCT),
                              (ax_up, D_UP_TICKS, [2.5, 7.5, 12.5, 17.5, 22.5, 27.5, 32.5], D_UP_PCT)]:
    ax.set_ylim(14.72, -0.52)
    ax.set_xlabel('')
    ax.set_ylabel('')
    ax.tick_params(axis='x', which='major', labelsize=15, length=10, width=1.5, pad=8)
    ax.tick_params(axis='x', which='minor', length=5, width=1.5)
    ax.tick_params(axis='y', labelsize=13.4, length=10, width=2.5, pad=7)
    for side in ['top', 'bottom']:
        ax.spines[side].set_linewidth(3)
    for side in ['left', 'right']:
        ax.spines[side].set_linewidth(1.6)
    top = ax.secondary_xaxis('top')
    top.set_xticks(ticks, labels=pct)
    top.set_xticks(minor, minor=True)
    top.tick_params(axis='x', which='major', labelsize=15.5, length=10, width=1.5, pad=8)
    top.tick_params(axis='x', which='minor', length=5, width=1.5)
    top.spines['top'].set_linewidth(3)
ax_up.spines['left'].set_visible(False)
text(24, 1278, 'GO term', 15.5, rotation=90)
text(1649, 1258, 'GO term', 15.5, rotation=90)
text(513, 1183, 'Down', 15)
text(1180, 1183, 'Up', 15)
text(821, 1568, 'Gene Number', 16.5)

# ---- panel E
px.add_patch(Rectangle((61, 1615), 1467, 64, color='#7f7f7f', lw=0))
px.add_patch(Rectangle((61, 1679), 1467, 50, color='#bfbfbf', lw=0))
px.add_patch(Rectangle((61, 1729), 1467, 57, color='#d9d9d9', lw=0))
text(795, 1649, 'Selected GO Biological process of DEGs', 20.5, weight='bold', color='white')
text(427, 1702, 'Up-regulated', 13, weight='bold')
text(1161, 1702, 'Down-regulated', 13, weight='bold')
px.plot([61, 1528], [1615, 1615], color='#444444', lw=1.2)
px.plot([61, 1528], [1679, 1679], color='#222222', lw=1.0)
px.plot([61, 1528], [2024, 2024], color='#222222', lw=1.4)
px.plot([61, 61], [1615, 2024], color='#444444', lw=0.8)
px.plot([1528, 1528], [1615, 2024], color='#444444', lw=0.8)
for y in E_ROW_Y[:-1]:
    px.plot([61, 1528], [y, y], color='#d9d9d9', lw=2)
for x in E_COL_X[1:-1]:
    px.plot([x, x], [1729, 2024], color='#cfcfcf', lw=0.8, zorder=1)
px.plot([791, 791], [1679, 2024], color='#222222', lw=1.0, zorder=2)
for col, header in enumerate(E_HEADERS):
    x = E_COL_X[col] + 7
    text(x, 1757, header, 13, ha='left', weight='bold', linespacing=1.15)
    for row, cell in enumerate(E_COLUMNS[col]):
        text(x, (E_ROW_Y[row] + E_ROW_Y[row + 1]) / 2, cell, 13.5, ha='left')

# ---- panel F
ax_f = add_ax(176.7, 2135, 951, 2441)
df_f = pd.DataFrame({'gene': F_GENES * 2, 'value': F_CTRL + F_CDC,
                     'group': ['Act B+ADSCs'] * 5 + ['Act B+ADSCs(Cdc42N17)'] * 5})
sns.barplot(data=df_f, x='gene', y='value', hue='group', palette=['#bfbfbf', '#8050ff'], width=0.838, gap=0.326,
            saturation=1, edgecolor='#222222', linewidth=1.1, legend=False, ax=ax_f)
centers = []
for bars, errs in zip(ax_f.containers, [F_CTRL_ERR, F_CDC_ERR]):
    xs = [b.get_x() + b.get_width() / 2 for b in bars]
    ys = [b.get_height() for b in bars]
    centers.append(xs)
    ax_f.errorbar(xs, ys, yerr=errs, fmt='none', ecolor='#111111', elinewidth=2, capsize=7.5, capthick=2, zorder=4)
for i in range(5):
    x0, x1 = centers[0][i], centers[1][i]
    ax_f.plot([x0, x0, x1, x1], [F_BRACKET_LEFT[i], F_BRACKET_TOP[i], F_BRACKET_TOP[i], F_BRACKET_RIGHT[i]],
              color='#222222', lw=1.0, clip_on=False)
    ax_f.text((x0 + x1) / 2, F_STAR[i], '*', fontsize=21, weight='bold', ha='center', va='center', clip_on=False)
ax_f.set_xlim(-0.5, 4.5)
ax_f.set_ylim(0, 2.306)
ax_f.set_yticks([0, 0.5, 1.0, 1.5, 2.0], labels=['0.0', '0.5', '1.0', '1.5', '2.0'], weight='bold')
ax_f.set_yticks([0.25, 0.75, 1.25, 1.75, 2.25], minor=True)
ax_f.set_xlabel('')
ax_f.set_ylabel('')
for side in ['top', 'right']:
    ax_f.spines[side].set_visible(False)
ax_f.spines['left'].set_linewidth(1.8)
ax_f.spines['bottom'].set_linewidth(3.5)
ax_f.tick_params(axis='y', which='major', labelsize=15.5, length=7, width=1.8, pad=3)
ax_f.tick_params(axis='y', which='minor', length=3.5, width=1.5)
ax_f.tick_params(axis='x', labelsize=15.5, length=8, width=1.8, pad=8)
text(109, 2288, 'Relative mRNA expression', 18, rotation=90)
px.add_patch(Rectangle((344, 2079), 48, 24, facecolor='#bfbfbf', edgecolor='#222222', lw=1.2))
text(400, 2092, 'Act B+ADSCs', 18, ha='left')
px.add_patch(Rectangle((576.5, 2079), 48, 24, facecolor='#8050ff', edgecolor='#222222', lw=1.2))
text(632, 2092, 'Act B+ADSCs(Cdc42N17)', 18, ha='left')

fig.savefig('out.png', dpi=100)
